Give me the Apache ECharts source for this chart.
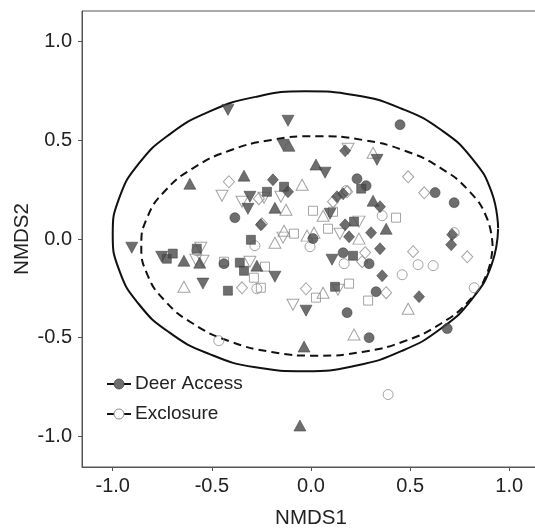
<!DOCTYPE html>
<html>
<head>
<meta charset="utf-8">
<script src="https://cdn.jsdelivr.net/npm/echarts@6/dist/echarts.min.js"></script>
<style>
  html, body { margin: 0; padding: 0; background: #fff; }
  #main { width: 535px; height: 528px; }
</style>
</head>
<body>
<div id="main"></div>
<script>
// tick labels
const tickValues = [-1.0, -0.5, 0.0, 0.5, 1.0];

// Deer Access (filled symbols), [NMDS1, NMDS2]
const deerCircle = [
  [0.449, 0.579], [0.232, 0.305], [0.278, 0.270], [0.626, 0.235], [0.722, 0.184],
  [-0.384, 0.108], [0.010, 0.002], [0.162, -0.070], [0.293, -0.125], [0.328, -0.267],
  [0.182, -0.373], [0.293, -0.500], [0.687, -0.454], [-0.439, -0.125]
];
const deerSquare = [
  [-0.222, 0.239], [-0.136, 0.265], [0.253, 0.255], [-0.303, -0.004], [-0.727, -0.100],
  [-0.697, -0.074], [-0.576, -0.049], [-0.359, -0.120], [-0.338, -0.161], [-0.419, -0.262],
  [0.217, 0.088], [0.121, -0.242], [0.212, -0.085]
];
const deerDiamond = [
  [-0.192, 0.300], [-0.116, 0.239], [0.172, 0.447], [0.131, 0.214], [0.162, 0.229],
  [-0.253, 0.072], [0.348, 0.164], [0.172, 0.072], [0.303, 0.032], [0.192, 0.011],
  [0.348, -0.049], [0.359, -0.186], [0.545, -0.292], [0.712, 0.022], [0.707, -0.029]
];
const deerTriUp = [
  [-0.611, 0.280], [-0.338, 0.321], [-0.111, 0.472], [0.025, 0.377], [-0.182, 0.158],
  [-0.641, -0.110], [-0.561, -0.120], [-0.273, -0.135], [0.313, 0.194], [0.379, 0.052],
  [-0.035, -0.545], [-0.056, -0.945]
];
const deerTriDown = [
  [-0.419, 0.654], [-0.116, 0.599], [-0.141, 0.477], [0.071, 0.336], [0.333, 0.401],
  [-0.308, 0.214], [-0.318, 0.153], [-0.904, -0.044], [-0.753, -0.090], [-0.545, -0.226],
  [-0.182, -0.191], [-0.025, -0.363], [0.096, 0.128], [0.106, -0.105]
];

// Exclosure (open symbols)
const exclCircle = [
  [0.177, 0.245], [0.359, 0.118], [-0.283, -0.034], [-0.576, -0.059], [-0.005, -0.039],
  [0.722, 0.032], [0.167, -0.125], [0.540, -0.130], [0.616, -0.135], [0.460, -0.181],
  [-0.273, -0.252], [0.823, -0.247], [-0.465, -0.515], [0.389, -0.788]
];
const exclSquare = [
  [0.010, 0.143], [0.111, 0.138], [0.429, 0.108], [-0.086, 0.027], [0.086, 0.052],
  [-0.439, -0.115], [-0.232, -0.140], [-0.288, -0.196], [-0.253, -0.247], [0.192, -0.226],
  [0.025, -0.297], [0.288, -0.312]
];
const exclDiamond = [
  [-0.414, 0.290], [-0.263, 0.204], [-0.247, 0.077], [0.111, 0.189], [0.182, 0.239],
  [0.490, 0.315], [0.571, 0.234], [0.273, -0.069], [0.258, -0.115], [0.515, -0.064],
  [0.788, -0.090], [-0.348, -0.247], [-0.025, -0.252], [0.379, -0.272]
];
const exclTriUp = [
  [-0.045, 0.275], [0.313, 0.437], [-0.126, 0.148], [-0.136, 0.042], [-0.182, -0.019],
  [-0.020, 0.017], [0.015, 0.032], [0.061, 0.118], [0.242, 0.002], [-0.641, -0.242],
  [0.061, -0.272], [0.490, -0.353], [0.217, -0.484]
];
const exclTriDown = [
  [-0.449, 0.219], [-0.348, 0.189], [-0.237, 0.209], [-0.152, 0.214], [0.187, 0.457],
  [-0.141, 0.007], [-0.556, -0.044], [-0.581, -0.105], [-0.545, -0.110], [-0.308, -0.115],
  [0.242, 0.088], [0.146, 0.027], [0.136, -0.257], [-0.091, -0.333]
];

// 95% ellipses, points read around each outline
const deerEllipse = [
  [0.944, 0.054], [0.911, 0.237], [0.814, 0.406], [0.659, 0.551], [0.458, 0.660],
  [0.224, 0.728], [-0.028, 0.748], [-0.280, 0.720], [-0.514, 0.645], [-0.715, 0.529],
  [-0.870, 0.380], [-0.967, 0.208], [-1.000, 0.024], [-0.967, -0.159], [-0.870, -0.328],
  [-0.715, -0.473], [-0.514, -0.582], [-0.280, -0.650], [-0.028, -0.670], [0.224, -0.642],
  [0.458, -0.567], [0.659, -0.451], [0.814, -0.302], [0.911, -0.130], [0.944, 0.054]
];
const exclEllipse = [
  [0.916, -0.035], [0.886, 0.109], [0.797, 0.243], [0.656, 0.358], [0.473, 0.447],
  [0.259, 0.502], [0.030, 0.521], [-0.199, 0.502], [-0.413, 0.447], [-0.596, 0.358],
  [-0.737, 0.243], [-0.826, 0.109], [-0.856, -0.035], [-0.826, -0.179], [-0.737, -0.313],
  [-0.596, -0.428], [-0.413, -0.517], [-0.199, -0.572], [0.030, -0.591], [0.259, -0.572],
  [0.473, -0.517], [0.656, -0.428], [0.797, -0.313], [0.886, -0.179], [0.916, -0.035]
];

const FONT = '"Liberation Sans", Arial, Helvetica, sans-serif';
const TEXT = '#222';
const FILL = '#4a4a4a';
const OPEN = '#8c8c8c';

function filled(data, symbol, size, rotate) {
  return {
    type: 'scatter', data, symbol, symbolSize: size, symbolRotate: rotate || 0,
    itemStyle: { color: FILL, opacity: 0.8, borderColor: '#333', borderWidth: 0.6 },
    silent: true, z: 3
  };
}
function open(data, symbol, size, rotate) {
  return {
    type: 'scatter', data, symbol, symbolSize: size, symbolRotate: rotate || 0,
    itemStyle: { color: 'rgba(255,255,255,0)', borderColor: OPEN, borderWidth: 1 },
    silent: true, z: 3
  };
}

const chart = echarts.init(document.getElementById('main'), null, { renderer: 'canvas' });

const axisCommon = {
  type: 'value',
  min: -1.155,
  max: 1.155,
  splitLine: { show: false },
  axisLine: { show: true, onZero: false, lineStyle: { color: '#555', width: 1 } },
  axisTick: { show: true, length: 4, customValues: tickValues, lineStyle: { color: '#555' } },
  nameLocation: 'middle',
  nameTextStyle: { fontFamily: FONT, fontSize: 20.5, color: TEXT }
};
const labelCommon = {
  customValues: tickValues, margin: 10,
  fontFamily: FONT, fontSize: 20, color: TEXT,
  formatter: v => v.toFixed(1)
};

chart.setOption({
  animation: false,
  backgroundColor: '#fff',
  // panel runs a few pixels past the right edge of the picture
  grid: {
    left: 82, width: 458, top: 11, height: 456,
    outerBoundsMode: 'none', containLabel: false,
    show: true, borderColor: '#555', borderWidth: 1
  },
  xAxis: Object.assign({}, axisCommon, {
    name: 'NMDS1',
    nameGap: 41,
    axisLabel: Object.assign({}, labelCommon, { margin: 9 })
  }),
  yAxis: Object.assign({}, axisCommon, {
    axisLabel: labelCommon
  }),
  series: [
    {
      type: 'line', data: deerEllipse, smooth: 0.5, symbol: 'none', silent: true, z: 1,
      lineStyle: { color: '#111', width: 2 }
    },
    {
      type: 'line', data: exclEllipse, smooth: 0.5, symbol: 'none', silent: true, z: 1,
      lineStyle: { color: '#111', width: 2, type: [8, 5] }
    },
    open(exclCircle, 'circle', 10),
    open(exclSquare, 'rect', 9),
    open(exclDiamond, 'diamond', [11, 12]),
    open(exclTriUp, 'triangle', [12, 11]),
    open(exclTriDown, 'triangle', [12, 11], 180),
    filled(deerCircle, 'circle', 10),
    filled(deerSquare, 'rect', 9),
    filled(deerDiamond, 'diamond', [11, 12]),
    filled(deerTriUp, 'triangle', [12, 11]),
    filled(deerTriDown, 'triangle', [12, 11], 180)
  ],
  graphic: [
    // y axis title
    {
      type: 'text', x: 22, y: 239, rotation: Math.PI / 2,
      style: { text: 'NMDS2', font: '20.5px ' + FONT, fill: TEXT, align: 'center', verticalAlign: 'middle' }
    },
    // legend drawn by hand: line + symbol + label
    { type: 'line', shape: { x1: 107, y1: 384, x2: 131, y2: 384 }, style: { stroke: '#111', lineWidth: 2 }, z: 10 },
    { type: 'circle', shape: { cx: 119, cy: 384, r: 5 }, style: { fill: '#6e6e6e', stroke: '#444', lineWidth: 0.8 }, z: 11 },
    { type: 'text', left: 135, top: 374, style: { text: 'Deer Access', font: '19px ' + FONT, fill: TEXT }, z: 11 },
    { type: 'line', shape: { x1: 107, y1: 414, x2: 131, y2: 414 }, style: { stroke: '#111', lineWidth: 2, lineDash: [7.5, 9] }, z: 10 },
    { type: 'circle', shape: { cx: 119, cy: 414, r: 5 }, style: { fill: '#fff', stroke: OPEN, lineWidth: 1 }, z: 11 },
    { type: 'text', left: 135, top: 404, style: { text: 'Exclosure', font: '19px ' + FONT, fill: TEXT }, z: 11 }
  ]
});
</script>
</body>
</html>
